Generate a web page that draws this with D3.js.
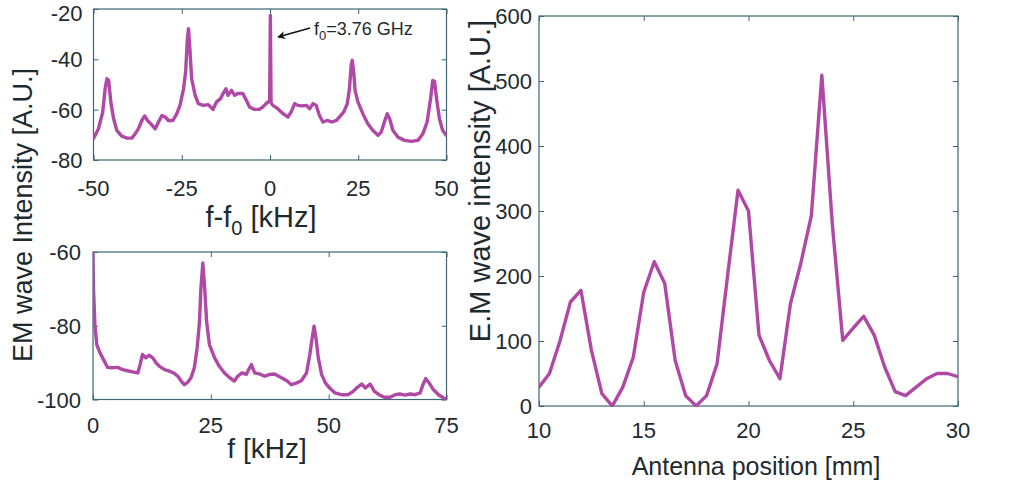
<!DOCTYPE html>
<html>
<head>
<meta charset="utf-8">
<script src="https://cdn.jsdelivr.net/npm/d3@7/dist/d3.min.js"></script>
<style>
  html, body { margin: 0; padding: 0; background: #fff; }
  svg { display: block; }
  text { font-family: "Liberation Sans", Arial, sans-serif; fill: #1d2b30; }
</style>
</head>
<body>
<svg id="chart" width="1011" height="486"></svg>
<script>
// ---------- DATA ----------
// Top-left: spectrum around f0 (f - f0 in kHz, intensity in A.U.)
const topFreq = [-50.0,-48.6,-47.4,-46.7,-46.2,-45.7,-45.1,-44.3,-43.4,-42.0,-40.5,-39.1,-38.2,-37.3,-36.3,-35.5,-34.7,-33.5,-32.5,-31.6,-30.6,-29.7,-28.8,-27.5,-26.4,-25.5,-24.5,-23.9,-23.4,-23.1,-22.7,-22.2,-21.2,-20.3,-18.9,-17.5,-16.1,-15.2,-14.0,-13.3,-12.5,-11.9,-10.9,-10.0,-9.1,-7.7,-6.7,-5.8,-4.4,-3.0,-2.0,-1.1,-0.6,-0.1,0.1,0.3,0.8,2.2,3.7,5.1,6.0,7.0,7.9,8.9,10.3,11.2,12.2,13.1,14.0,15.0,16.2,17.5,18.8,19.7,20.9,21.9,22.5,23.0,23.3,23.7,24.1,24.9,26.3,27.7,29.1,30.6,31.5,32.4,33.2,33.9,34.8,36.2,38.1,40.0,41.9,43.3,44.5,45.5,46.1,46.6,47.3,48.0,48.9,49.9,50.4];
const topIntensity = [-71.5,-67.6,-61.1,-51.7,-47.7,-48.4,-56.9,-63.6,-68.2,-70.5,-71.3,-71.3,-69.6,-67.6,-64.3,-62.5,-64.3,-66.0,-67.6,-64.9,-62.3,-62.9,-64.3,-64.3,-61.6,-58.3,-51.7,-45.0,-31.8,-27.8,-35.8,-47.7,-54.3,-57.6,-58.3,-58.0,-59.9,-57.0,-55.6,-53.6,-51.7,-54.3,-52.3,-54.3,-53.6,-53.6,-56.3,-58.9,-59.9,-59.9,-58.9,-57.6,-57.0,-56.5,-22.6,-57.3,-58.3,-59.6,-61.6,-62.9,-60.9,-57.6,-58.3,-58.5,-58.3,-59.6,-57.6,-58.3,-62.3,-64.9,-64.3,-64.9,-64.3,-62.9,-60.9,-57.6,-51.7,-42.4,-40.4,-45.0,-52.3,-56.9,-61.6,-65.6,-68.2,-70.2,-68.9,-64.9,-61.6,-63.6,-68.2,-70.9,-72.2,-72.6,-72.2,-69.6,-64.9,-55.6,-48.4,-48.8,-56.9,-63.6,-68.2,-70.2,-70.2];

// Bottom-left: low-frequency spectrum (f in kHz)
const botFreq = [0.0,0.1,0.4,0.8,1.5,2.4,3.1,4.1,5.2,6.3,7.3,8.4,9.5,10.0,10.5,11.2,11.9,12.7,13.4,14.1,15.2,16.2,17.1,18.0,18.7,19.4,20.1,20.8,21.5,22.1,22.6,22.9,23.3,23.7,24.1,24.7,25.8,26.8,27.9,29.0,30.0,30.7,31.6,32.5,33.6,34.3,35.4,36.4,37.5,38.5,39.4,40.3,41.2,42.1,43.2,44.2,45.3,46.0,46.5,46.9,47.3,47.8,48.5,49.3,50.2,51.3,52.7,54.1,55.2,56.1,57.0,57.8,58.8,59.7,60.7,61.8,63.0,64.1,65.1,66.2,67.3,68.3,69.4,70.0,70.6,71.3,72.2,73.3,74.4,74.9];
const botIntensity = [-60.3,-69.8,-79.7,-85.1,-87.4,-89.6,-91.3,-91.4,-91.3,-91.9,-92.2,-92.5,-92.8,-90.5,-87.8,-88.7,-88.0,-88.7,-90.1,-91.0,-91.9,-92.3,-92.8,-93.7,-95.0,-96.0,-95.3,-94.1,-91.4,-86.0,-78.8,-69.8,-63.0,-69.8,-78.8,-85.1,-88.7,-91.0,-92.8,-94.1,-95.0,-93.7,-92.8,-93.2,-90.5,-92.8,-93.1,-93.7,-93.2,-93.1,-93.7,-94.3,-95.0,-96.0,-95.5,-94.9,-92.8,-87.8,-83.3,-80.1,-83.3,-88.7,-93.2,-95.5,-96.9,-98.2,-98.7,-98.7,-97.8,-96.7,-95.8,-96.9,-95.8,-97.8,-98.7,-99.4,-99.4,-98.7,-98.5,-98.8,-98.5,-98.7,-98.2,-96.0,-94.3,-95.5,-97.3,-98.7,-99.6,-99.8];

// Right: E.M wave intensity vs antenna position (mm)
const antennaPos = [10,10.5,11,11.5,12,12.5,13,13.5,14,14.5,15,15.5,16,16.5,17,17.5,18,18.5,19,19.5,20,20.5,21,21.5,22,22.5,23,23.5,24,24.5,25,25.5,26,26.5,27,27.5,28,28.5,29,29.5,30];
const emIntensity = [29,50,100,160,178,86,19,0,29,75,175,222,189,70,16,0,16,65,200,332,300,109,70,42,157,220,293,509,280,101,120,138,109,60,22,16,29,42,50,50,45];

// Tick values
const topXTicks = [-50,-25,0,25,50];
const topYTicks = [-80,-60,-40,-20];
const botXTicks = [0,25,50,75];
const botYTicks = [-100,-80,-60];
const rightXTicks = [10,15,20,25,30];
const rightYTicks = [0,100,200,300,400,500,600];

// ---------- DRAWING ----------
const svg = d3.select("#chart");
const LINE = "#b048a6";
const FRAME = "#3d6774";
const TICKFONT = 22;

function panel(cfg) {
  const g = svg.append("g");
  const x = d3.scaleLinear().domain(cfg.xDomain).range([cfg.left, cfg.right]);
  const y = d3.scaleLinear().domain(cfg.yDomain).range([cfg.bottom, cfg.top]);
  const clipId = "clip" + cfg.id;
  svg.append("clipPath").attr("id", clipId).append("rect")
    .attr("x", cfg.left).attr("y", cfg.top - 2)
    .attr("width", cfg.right - cfg.left).attr("height", cfg.bottom - cfg.top + 3);

  // inward ticks on all four sides (MATLAB box style)
  const tl = 5;
  const bottomAxis = d3.axisBottom(x).tickValues(cfg.xTicks).tickSize(-tl).tickFormat("");
  const topAxis = d3.axisTop(x).tickValues(cfg.xTicks).tickSize(-tl).tickFormat("");
  const leftAxis = d3.axisLeft(y).tickValues(cfg.yTicks).tickSize(-tl).tickFormat("");
  const rightAxis = d3.axisRight(y).tickValues(cfg.yTicks).tickSize(-tl).tickFormat("");
  [[bottomAxis, `translate(0,${cfg.bottom})`], [topAxis, `translate(0,${cfg.top})`],
   [leftAxis, `translate(${cfg.left},0)`], [rightAxis, `translate(${cfg.right},0)`]].forEach(([ax, tr]) => {
    const a = g.append("g").attr("transform", tr).call(ax);
    a.select(".domain").remove();
    a.selectAll("line").attr("stroke", FRAME).attr("stroke-width", 1);
  });

  // frame
  g.append("rect")
    .attr("x", cfg.left).attr("y", cfg.top)
    .attr("width", cfg.right - cfg.left).attr("height", cfg.bottom - cfg.top)
    .attr("fill", "none").attr("stroke", FRAME).attr("stroke-width", 1.2);

  // data line
  const pts = cfg.xs.map((v, i) => [v, cfg.ys[i]]);
  g.append("path")
    .datum(pts)
    .attr("clip-path", `url(#${clipId})`)
    .attr("fill", "none").attr("stroke", LINE).attr("stroke-width", 3.4)
    .attr("stroke-linejoin", "round").attr("stroke-linecap", "round")
    .attr("d", d3.line().x(d => x(d[0])).y(d => y(d[1])));

  // tick labels
  g.selectAll(".xl").data(cfg.xTicks).enter().append("text")
    .attr("x", d => x(d)).attr("y", cfg.bottom + cfg.xLabelOffset)
    .attr("text-anchor", "middle").attr("font-size", TICKFONT)
    .text(d => d);
  g.selectAll(".yl").data(cfg.yTicks).enter().append("text")
    .attr("x", cfg.left - cfg.yLabelGap)
    .attr("y", d => Math.max(y(d) + 0.37 * TICKFONT, 21))
    .attr("text-anchor", "end").attr("font-size", TICKFONT)
    .text(d => d);
  return { x, y, g };
}

const pTop = panel({
  id: "top", left: 93.5, right: 446.5, top: 9, bottom: 160,
  xDomain: [-50, 50], yDomain: [-80, -20],
  xTicks: topXTicks, yTicks: topYTicks,
  xs: topFreq, ys: topIntensity, xLabelOffset: 36, yLabelGap: 11
});
const pBot = panel({
  id: "bot", left: 93, right: 446.5, top: 252, bottom: 399.5,
  xDomain: [0, 75], yDomain: [-100, -60],
  xTicks: botXTicks, yTicks: botYTicks,
  xs: botFreq, ys: botIntensity, xLabelOffset: 33, yLabelGap: 12
});
const pRight = panel({
  id: "right", left: 539, right: 958, top: 16, bottom: 406,
  xDomain: [10, 30], yDomain: [0, 600],
  xTicks: rightXTicks, yTicks: rightYTicks,
  xs: antennaPos, ys: emIntensity, xLabelOffset: 32, yLabelGap: 7
});

// axis titles
const t1 = svg.append("text").attr("x", 261).attr("y", 227)
  .attr("text-anchor", "middle").attr("font-size", 29);
t1.append("tspan").text("f-f");
t1.append("tspan").attr("font-size", 20).attr("dy", 8).text("0");
t1.append("tspan").attr("dy", -8).text(" [kHz]");

svg.append("text").attr("x", 267).attr("y", 458)
  .attr("text-anchor", "middle").attr("font-size", 28).text("f [kHz]");

svg.append("text").attr("x", 756).attr("y", 475)
  .attr("text-anchor", "middle").attr("font-size", 25).text("Antenna position [mm]");

svg.append("text")
  .attr("transform", "translate(32,215) rotate(-90)")
  .attr("text-anchor", "middle").attr("font-size", 27).text("EM wave Intensity [A.U.]");

svg.append("text")
  .attr("transform", "translate(490,181) rotate(-90)")
  .attr("text-anchor", "middle").attr("font-size", 29).text("E.M wave intensity [A.U.]");

// annotation with arrow
const ax0 = pTop.x(0) + 8, ay0 = 37;
svg.append("defs").append("marker")
  .attr("id", "arrowhead").attr("viewBox", "0 0 10 10")
  .attr("refX", 9).attr("refY", 5).attr("markerWidth", 12).attr("markerHeight", 8)
  .attr("markerUnits", "userSpaceOnUse").attr("orient", "auto")
  .append("path").attr("d", "M0,0 L10,5 L0,10 L3,5 Z").attr("fill", "#111");
svg.append("line")
  .attr("x1", 310).attr("y1", 28).attr("x2", ax0).attr("y2", ay0)
  .attr("stroke", "#111").attr("stroke-width", 1.3)
  .attr("marker-end", "url(#arrowhead)");
const ann = svg.append("text").attr("x", 314).attr("y", 35).attr("font-size", 18);
ann.append("tspan").text("f");
ann.append("tspan").attr("font-size", 13).attr("dy", 5).text("0");
ann.append("tspan").attr("dy", -5).text("=3.76 GHz");
</script>
</body>
</html>
